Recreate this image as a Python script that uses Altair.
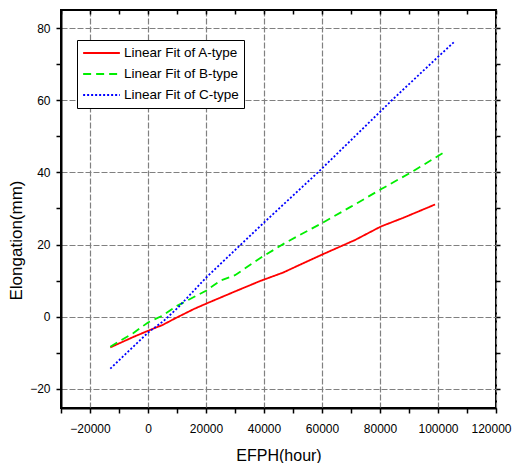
import altair as alt
import pandas as pd

# Series
a_x = [-13000, -5000, 0, 5000, 10000, 16000, 20000, 30000, 39000, 46500, 54000, 60000, 71500, 80300, 88000, 99000]
a_y = [-8.5, -5.6, -3.9, -2.3, -0.2, 2.2, 3.6, 7.0, 10.0, 12.2, 15.0, 17.2, 21.3, 25.0, 27.4, 31.1]

b_x = [-13000, -5000, 0, 5000, 10000, 20000, 25000, 30000, 39000, 47600, 59700, 70000, 80300, 90700, 102000]
b_y = [-8.3, -4.5, -1.6, 0.3, 3.0, 7.2, 10.0, 11.5, 16.4, 20.6, 25.8, 30.5, 35.3, 40.0, 45.5]

c_x = [-13000, 0, 5500, 10300, 20000, 32800, 39600, 59000, 84500, 100000, 105500]
c_y = [-14.4, -4.4, -1.1, 2.5, 10.8, 20.6, 25.8, 40.3, 60.3, 72.0, 76.1]

series = ["Linear Fit of A-type", "Linear Fit of B-type", "Linear Fit of C-type"]
colors = ["#ff0000", "#00ee00", "#0000ff"]
dashes = [[1, 0], [8, 5], [2, 2]]

x_ticks = list(range(-30000, 120001, 10000))
y_ticks = list(range(-20, 81, 10))

rows = []
for name, xs, ys in zip(series, [a_x, b_x, c_x], [a_y, b_y, c_y]):
    for i, (xv, yv) in enumerate(zip(xs, ys)):
        rows.append({"s": name, "x": xv, "y": yv, "o": i})
df = pd.DataFrame(rows)

FONT = "Liberation Sans"
xdom = [-30000, 120000]
ydom = [-25.3, 85]

grid_x = {"condition": {"test": "datum.value % 20000 === 0", "value": 1}, "value": 0}
grid_y = {"condition": {"test": "datum.value % 20 === 0", "value": 1}, "value": 0}

main = alt.Chart(df).mark_line(strokeWidth=1.8, clip=True).encode(
    x=alt.X("x:Q", scale=alt.Scale(domain=xdom, nice=False, zero=False),
            axis=alt.Axis(values=x_ticks, title="EFPH(hour)", labelOverlap=False,
                          labelFlush=True, labelFlushOffset=15,
                          labelExpr="datum.value % 20000 === 0 ? datum.label : ''",
                          gridOpacity=grid_x, format="d")),
    y=alt.Y("y:Q", scale=alt.Scale(domain=ydom, nice=False, zero=False),
            axis=alt.Axis(values=y_ticks, title="Elongation(mm)", labelOverlap=False, labelFlush=False,
                          labelExpr="datum.value % 20 === 0 ? datum.label : ''",
                          gridOpacity=grid_y, titleY=230, titleFontSize=17)),
    color=alt.Color("s:N", scale=alt.Scale(domain=series, range=colors),
                    legend=alt.Legend(title=None, orient="none", legendX=16, legendY=30)),
    strokeDash=alt.StrokeDash("s:N", scale=alt.Scale(domain=series, range=dashes), legend=None),
    order="o:Q",
)

frame = alt.Chart(df).mark_line(opacity=0).encode(
    x=alt.X("x:Q", scale=alt.Scale(domain=xdom, nice=False, zero=False),
            axis=alt.Axis(orient="top", values=x_ticks, labels=False, title=None, grid=False,
                          domain=False, tickSize=4, offset=-4)),
    y=alt.Y("y:Q", scale=alt.Scale(domain=ydom, nice=False, zero=False),
            axis=alt.Axis(orient="right", values=y_ticks, labels=False, title=None, grid=False,
                          domain=False, tickSize=4)),
)

chart = alt.layer(main, frame).resolve_scale(x="independent", y="independent").properties(
    width=435, height=398,
    autosize=alt.AutoSizeParams(type="none"),
    padding={"left": 53, "top": 2, "right": 16, "bottom": 55},
).configure_view(stroke="black", strokeWidth=2).configure_axis(
    domainColor="black", domainWidth=2, tickColor="black", tickWidth=1.5, tickSize=5,
    labelFont=FONT, labelFontSize=12, labelColor="black",
    titleFont=FONT, titleFontSize=16, titleFontWeight="normal", titleColor="black",
    gridColor="#808080", gridDash=[6, 2], gridWidth=1.2,
).configure_axisX(labelPadding=10, titlePadding=13).configure_axisY(labelPadding=6, titlePadding=4).configure_legend(
    symbolType="stroke", symbolSize=1350, symbolStrokeWidth=2, labelFont=FONT, labelFontSize=13.5,
    labelColor="black", strokeColor="black", fillColor="white", padding=5, rowPadding=5,
    clipHeight=16, cornerRadius=0, labelLimit=300, labelOffset=3,
)

chart.save("out.html", embed_options={"renderer": "svg", "actions": False})
